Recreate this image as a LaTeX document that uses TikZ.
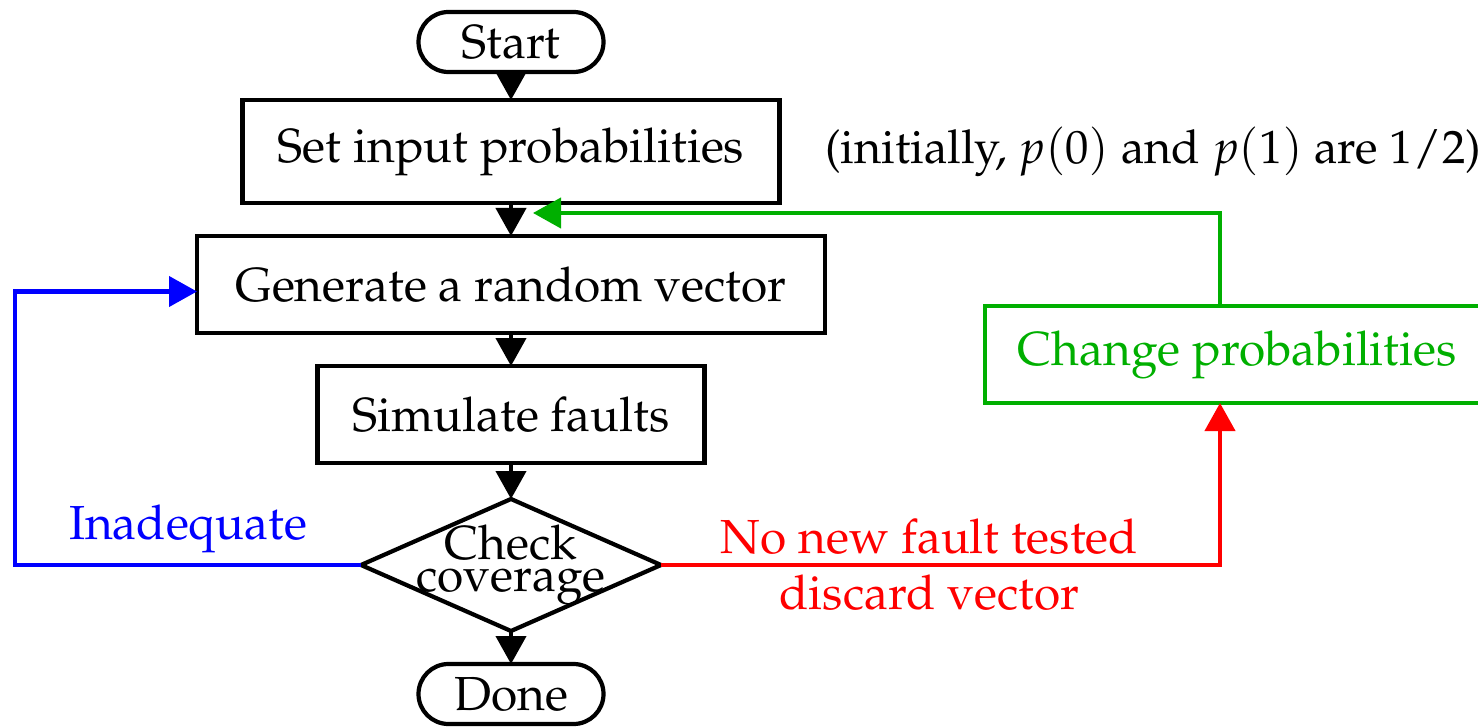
\documentclass[tikz,border=0pt]{standalone}
\usepackage[T1]{fontenc}
\usepackage{mathpazo}
\usepackage{tikz}
\usetikzlibrary{shapes.geometric, arrows.meta, positioning, calc}
\definecolor{chgreen}{RGB}{0,175,0}

\begin{document}
\begin{tikzpicture}[
    node distance=0.33cm,
    font=\fontsize{13.6}{16}\selectfont,
    line width=1.2pt,
    every node/.style={outer sep=0pt},
    block/.style={rectangle, draw, minimum height=0.97cm, align=center},
    terminal/.style={rectangle, draw, rounded corners=0.3cm, minimum width=1.85cm, minimum height=0.6cm},
    decision/.style={diamond, draw, minimum width=3cm, minimum height=1.32cm, inner sep=0pt},
    arrow/.style={-{Triangle[length=0.28cm, width=0.3cm]}}
]
    \useasboundingbox (0,0) rectangle (14.78,7.27);

    \node[terminal] (start) at (5.11,6.85) {Start};
    \node[block, below=0.28cm of start, minimum width=5.37cm, minimum height=1.03cm] (set) {Set input probabilities};
    \node[block, below=of set, minimum width=6.28cm] (gen) {Generate a random vector};
    \node[block, below=of gen, minimum width=3.87cm] (sim) {Simulate faults};
    \node[decision, below=0.36cm of sim] (check) {};
    \node[align=center, font=\fontsize{13.6}{9}\selectfont] (checktext) at (check) {Check\\coverage};
    \node[terminal, below=of check] (done) {Done};
    \node[block, draw=chgreen, text=chgreen, right=1.6cm of gen, yshift=-0.7cm, minimum width=5.04cm] (chg) {Change probabilities};
    \node[right=0.34cm of set, font=\fontsize{13.3}{15}\selectfont] (note) {(initially, $p(0)$ and $p(1)$ are $1/2$)};

    % main flow
    \draw[arrow] (start) -- (set);
    \draw[arrow] (set) -- (gen);
    \draw[arrow] (gen) -- (sim);
    \draw[arrow] (sim) -- (check);
    \draw[arrow] (check) -- (done);

    % feedback loops
    \coordinate (merge) at (5.33,5.14);
    \draw[arrow, chgreen] ([xshift=-0.17cm]chg.north) |- (merge);
    \draw[arrow, red] (check.east) -| node[pos=0.24, align=center] {No new fault tested\\discard vector} ([xshift=-0.17cm]chg.south);
    \draw[arrow, blue] (check.west) -- ++(-3.46,0) node[midway, above] {Inadequate} |- ([yshift=-0.07cm]gen.west);
\end{tikzpicture}
\end{document}
